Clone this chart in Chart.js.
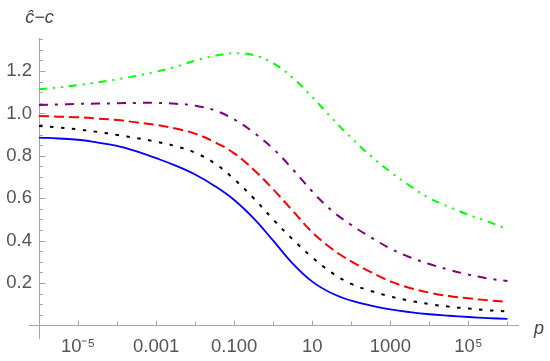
<!DOCTYPE html>
<html>
<head>
<meta charset="utf-8">
<script src="https://cdn.jsdelivr.net/npm/chart.js@4.4.0/dist/chart.umd.min.js"></script>
<style>
  html, body { margin: 0; padding: 0; background: #fff; }
</style>
</head>
<body>
<canvas id="chart" width="550" height="361"></canvas>
<script>
// Valores de p (eje x logarítmico, medios decenios de 1e-6 a 1e6)
const pValues = [1e-6, 3.16e-6, 1e-5, 3.16e-5, 1e-4, 3.16e-4, 1e-3, 3.16e-3, 1e-2, 3.16e-2,
                 0.1, 0.316, 1, 3.16, 10, 31.6, 100, 316, 1000, 3160, 1e4, 3.16e4, 1e5, 3.16e5, 1e6];

// Curvas ĉ − c
const curveBlue   = [0.886, 0.882, 0.876, 0.863, 0.847, 0.821, 0.789, 0.754, 0.712, 0.658,
                     0.592, 0.505, 0.400, 0.292, 0.207, 0.152, 0.117, 0.094, 0.076, 0.063,
                     0.053, 0.046, 0.040, 0.035, 0.031];
const curveBlack  = [0.941, 0.934, 0.925, 0.913, 0.899, 0.884, 0.867, 0.846, 0.815, 0.765,
                     0.690, 0.600, 0.500, 0.406, 0.321, 0.249, 0.196, 0.163, 0.137, 0.117,
                     0.101, 0.089, 0.080, 0.072, 0.066];
const curveRed    = [0.988, 0.985, 0.982, 0.976, 0.969, 0.958, 0.946, 0.929, 0.905, 0.865,
                     0.812, 0.735, 0.642, 0.541, 0.440, 0.362, 0.302, 0.252, 0.208, 0.177,
                     0.155, 0.139, 0.128, 0.119, 0.112];
const curvePurple = [1.040, 1.043, 1.045, 1.047, 1.048, 1.050, 1.050, 1.046, 1.037, 1.015,
                     0.972, 0.910, 0.833, 0.737, 0.632, 0.542, 0.474, 0.416, 0.363, 0.322,
                     0.290, 0.263, 0.240, 0.222, 0.210];
const curveGreen  = [1.114, 1.123, 1.134, 1.147, 1.161, 1.178, 1.197, 1.220, 1.249, 1.272,
                     1.284, 1.275, 1.237, 1.168, 1.077, 0.979, 0.884, 0.800, 0.725, 0.659,
                     0.600, 0.560, 0.522, 0.490, 0.455];

// Marcas de los ejes
const xTickValues = [1e-5, 1e-3, 0.1, 10, 1000, 1e5];
const xTickLabels = ['10\u207B\u2075', '0.001', '0.100', '10', '1000', '10\u2075'];
const xMinorValues = [1e-4, 1e-2, 1, 100, 1e4, 1e6];
const yTickValues = [0.2, 0.4, 0.6, 0.8, 1.0, 1.2];
const yTickLabels = ['0.2', '0.4', '0.6', '0.8', '1.0', '1.2'];

const axisColor = '#a6a6a6';
const labelColor = '#555555';

const toPoints = arr => pValues.map((p, i) => ({ x: p, y: arr[i] }));

// Marcas hacia dentro y etiquetas de los ejes, al estilo Mathematica
const axisExtras = {
    id: 'axisExtras',
    afterDraw(chart) {
        const { ctx, chartArea } = chart;
        const xs = chart.scales.x;
        const ys = chart.scales.y;
        const y0 = Math.round(ys.getPixelForValue(0)) + 0.5;
        const x0 = Math.round(xs.getPixelForValue(1e-6)) + 0.5;

        ctx.save();
        ctx.strokeStyle = axisColor;
        ctx.lineWidth = 1;
        ctx.beginPath();
        // tramo del eje x a la izquierda del eje y
        ctx.moveTo(x0 - 10.5, y0);
        ctx.lineTo(x0, y0);
        xTickValues.forEach(v => {
            const px = Math.round(xs.getPixelForValue(v)) + 0.5;
            ctx.moveTo(px, y0);
            ctx.lineTo(px, y0 - 5);
        });
        xMinorValues.forEach(v => {
            const px = Math.round(xs.getPixelForValue(v)) + 0.5;
            ctx.moveTo(px, y0);
            ctx.lineTo(px, y0 - 4);
        });
        for (let k = 1; k <= 27; k++) {
            const v = k * 0.05;
            const py = Math.round(ys.getPixelForValue(v)) + 0.5;
            const major = k % 4 === 0;
            ctx.moveTo(x0, py);
            ctx.lineTo(x0 + (major ? 6 : 3.5), py);
        }
        ctx.stroke();

        ctx.fillStyle = '#444444';
        ctx.font = 'italic 18px "Liberation Sans"';
        ctx.textBaseline = 'alphabetic';
        ctx.textAlign = 'center';
        ctx.fillText('\u0109\u2212c', x0, chartArea.top - 15);
        ctx.textAlign = 'left';
        ctx.fillText('p', chartArea.right + 16, y0 + 8);
        ctx.restore();
    }
};

new Chart(document.getElementById('chart'), {
    type: 'line',
    data: {
        datasets: [{
            data: toPoints(curveGreen),
            borderColor: '#00ff00',
            borderWidth: 2,
            borderDash: [8, 6, 2, 6, 2, 6]
        }, {
            data: toPoints(curvePurple),
            borderColor: '#800080',
            borderWidth: 2,
            borderDash: [9, 7, 3, 7]
        }, {
            data: toPoints(curveRed),
            borderColor: '#ff0000',
            borderWidth: 2,
            borderDash: [10, 5]
        }, {
            data: toPoints(curveBlack),
            borderColor: '#000000',
            borderWidth: 2,
            borderDash: [3.5, 7.5]
        }, {
            data: toPoints(curveBlue),
            borderColor: '#0000ff',
            borderWidth: 1.8
        }]
    },
    options: {
        responsive: false,
        animation: false,
        devicePixelRatio: 1,
        layout: { padding: { left: 0, right: 32, top: 38, bottom: 23 } },
        elements: {
            point: { radius: 0 },
            line: { tension: 0.4, fill: false }
        },
        plugins: {
            legend: { display: false },
            tooltip: { enabled: false }
        },
        scales: {
            x: {
                type: 'logarithmic',
                position: { y: 0 },
                min: 1e-6,
                max: Math.pow(10, 6.27),
                afterBuildTicks: scale => {
                    scale.ticks = xTickValues.map(v => ({ value: v }));
                },
                ticks: {
                    autoSkip: false,
                    maxRotation: 0,
                    padding: 10,
                    color: labelColor,
                    font: { family: '"Liberation Sans"', size: 18.5 },
                    callback: value => {
                        const i = xTickValues.indexOf(value);
                        return i >= 0 ? xTickLabels[i] : '';
                    }
                },
                grid: { display: true, drawOnChartArea: false, drawTicks: false },
                border: { display: true, color: axisColor, width: 1 }
            },
            y: {
                type: 'linear',
                position: 'left',
                min: -0.059,
                max: 1.356,
                afterFit: scale => { scale.width = 39; },
                afterBuildTicks: scale => {
                    scale.ticks = yTickValues.map(v => ({ value: v }));
                },
                ticks: {
                    autoSkip: false,
                    padding: 7,
                    color: labelColor,
                    font: { family: '"Liberation Sans"', size: 18.5 },
                    callback: value => {
                        const i = yTickValues.findIndex(v => Math.abs(v - value) < 1e-9);
                        return i >= 0 ? yTickLabels[i] : '';
                    }
                },
                grid: { display: true, drawOnChartArea: false, drawTicks: false },
                border: { display: true, color: axisColor, width: 1 }
            }
        }
    },
    plugins: [axisExtras]
});
</script>
</body>
</html>
